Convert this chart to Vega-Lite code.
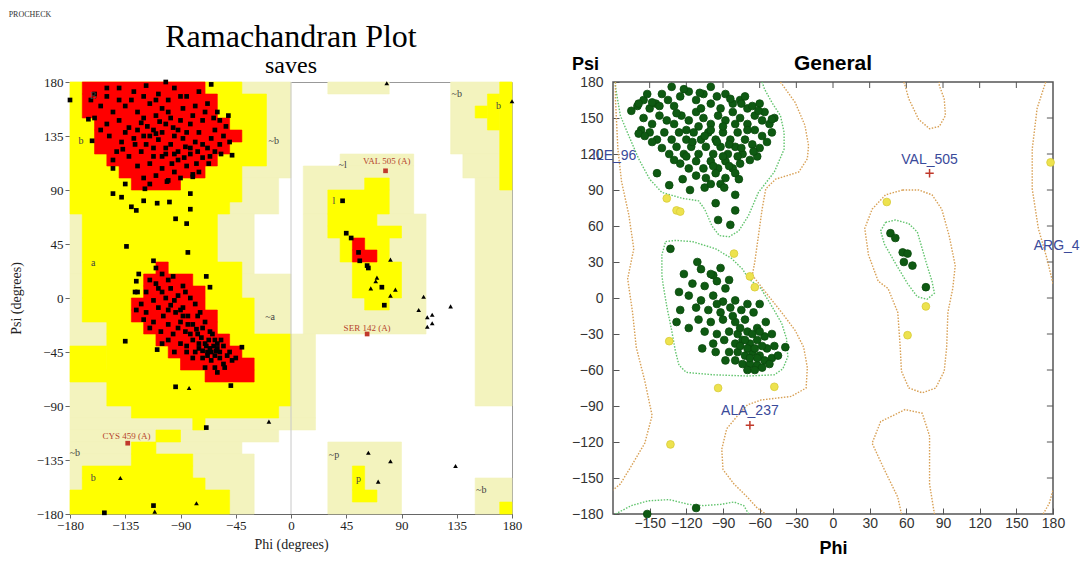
{
"$schema":"https://vega.github.io/schema/vega-lite/v6.json",
"background":"white",
"padding":{"left":8,"top":10,"right":0,"bottom":0},
"title":{"text":"PROCHECK","anchor":"start","fontSize":8,"font":"Liberation Serif","fontWeight":"normal","color":"#333","offset":2},
"spacing":47,
"resolve":{"scale":{"color":"independent","fill":"independent","stroke":"independent","shape":"independent"}},
"config":{"view":{"stroke":null}},
"datasets":{
"rg":[
{"t":"g","phi":-180,"phi2":0,"psi":100,"psi2":180},{"t":"g","phi":-180,"phi2":-10,"psi":70,"psi2":100},{"t":"g","phi":-180,"phi2":-30,"psi":20,"psi2":70},{"t":"g","phi":-180,"phi2":0,"psi":-100,"psi2":20},{"t":"g","phi":0,"phi2":20,"psi":-100,"psi2":-30},{"t":"g","phi":-180,"phi2":20,"psi":-110,"psi2":-100},{"t":"g","phi":-180,"phi2":-10,"psi":-120,"psi2":-110},{"t":"g","phi":-180,"phi2":-40,"psi":-130,"psi2":-120},{"t":"g","phi":-180,"phi2":-30,"psi":-180,"psi2":-130},{"t":"g","phi":30,"phi2":80,"psi":170,"psi2":180},{"t":"g","phi":130,"phi2":180,"psi":120,"psi2":180},{"t":"g","phi":140,"phi2":180,"psi":100,"psi2":120},{"t":"g","phi":150,"phi2":180,"psi":-90,"psi2":100},{"t":"g","phi":150,"phi2":180,"psi":-180,"psi2":-150},{"t":"g","phi":40,"phi2":100,"psi":110,"psi2":120},{"t":"g","phi":10,"phi2":100,"psi":70,"psi2":110},{"t":"g","phi":10,"phi2":110,"psi":-30,"psi2":70},{"t":"g","phi":30,"phi2":90,"psi":-180,"psi2":-120},
{"t":"y","phi":-180,"phi2":-40,"psi":170,"psi2":180},{"t":"y","phi":-180,"phi2":-20,"psi":110,"psi2":170},{"t":"y","phi":-180,"phi2":-40,"psi":80,"psi2":110},{"t":"y","phi":-180,"phi2":-50,"psi":70,"psi2":80},{"t":"y","phi":-170,"phi2":-60,"psi":30,"psi2":70},{"t":"y","phi":-170,"phi2":-40,"psi":0,"psi2":30},{"t":"y","phi":-170,"phi2":-30,"psi":-20,"psi2":0},{"t":"y","phi":-150,"phi2":-30,"psi":-30,"psi2":-20},{"t":"y","phi":-150,"phi2":0,"psi":-60,"psi2":-30},{"t":"y","phi":-180,"phi2":-150,"psi":-60,"psi2":-40},{"t":"y","phi":-180,"phi2":0,"psi":-70,"psi2":-60},{"t":"y","phi":-150,"phi2":0,"psi":-90,"psi2":-70},{"t":"y","phi":-130,"phi2":-10,"psi":-100,"psi2":-90},{"t":"y","phi":-80,"phi2":-70,"psi":-110,"psi2":-100},{"t":"y","phi":-180,"phi2":-50,"psi":-180,"psi2":-160},{"t":"y","phi":-170,"phi2":-70,"psi":-160,"psi2":-150},{"t":"y","phi":-170,"phi2":-80,"psi":-150,"psi2":-140},{"t":"y","phi":-130,"phi2":-80,"psi":-140,"psi2":-130},{"t":"y","phi":-130,"phi2":-110,"psi":-130,"psi2":-120},{"t":"y","phi":-110,"phi2":-90,"psi":-120,"psi2":-110},{"t":"y","phi":170,"phi2":180,"psi":90,"psi2":180},{"t":"y","phi":160,"phi2":170,"psi":140,"psi2":170},{"t":"y","phi":150,"phi2":160,"psi":150,"psi2":160},{"t":"y","phi":170,"phi2":180,"psi":-180,"psi2":-170},{"t":"y","phi":60,"phi2":80,"psi":90,"psi2":100},{"t":"y","phi":30,"phi2":80,"psi":70,"psi2":90},{"t":"y","phi":30,"phi2":70,"psi":60,"psi2":70},{"t":"y","phi":30,"phi2":90,"psi":50,"psi2":60},{"t":"y","phi":40,"phi2":80,"psi":30,"psi2":50},{"t":"y","phi":50,"phi2":90,"psi":0,"psi2":30},{"t":"y","phi":60,"phi2":80,"psi":-10,"psi2":0},{"t":"y","phi":50,"phi2":60,"psi":-160,"psi2":-140},{"t":"y","phi":50,"phi2":70,"psi":-170,"psi2":-160},
{"t":"r","phi":-170,"phi2":-70,"psi":170,"psi2":180},{"t":"r","phi":-170,"phi2":-60,"psi":150,"psi2":170},{"t":"r","phi":-160,"phi2":-50,"psi":140,"psi2":150},{"t":"r","phi":-160,"phi2":-40,"psi":130,"psi2":140},{"t":"r","phi":-160,"phi2":-50,"psi":120,"psi2":130},{"t":"r","phi":-150,"phi2":-60,"psi":110,"psi2":120},{"t":"r","phi":-140,"phi2":-70,"psi":100,"psi2":110},{"t":"r","phi":-130,"phi2":-90,"psi":90,"psi2":100},{"t":"r","phi":-110,"phi2":-100,"psi":20,"psi2":30},{"t":"r","phi":-120,"phi2":-80,"psi":10,"psi2":20},{"t":"r","phi":-120,"phi2":-70,"psi":0,"psi2":10},{"t":"r","phi":-130,"phi2":-70,"psi":-10,"psi2":0},{"t":"r","phi":-130,"phi2":-60,"psi":-20,"psi2":-10},{"t":"r","phi":-120,"phi2":-60,"psi":-30,"psi2":-20},{"t":"r","phi":-110,"phi2":-50,"psi":-40,"psi2":-30},{"t":"r","phi":-100,"phi2":-40,"psi":-50,"psi2":-40},{"t":"r","phi":-90,"phi2":-30,"psi":-60,"psi2":-50},{"t":"r","phi":-70,"phi2":-30,"psi":-70,"psi2":-60},{"t":"r","phi":50,"phi2":60,"psi":40,"psi2":50},{"t":"r","phi":50,"phi2":70,"psi":30,"psi2":40}
],
"lr":[{"phi":0,"psi":-180,"psi2":180}],
"lp":[
{"phi":-160,"psi":170,"s":"sq"},{"phi":-150,"psi":175,"s":"sq"},{"phi":-140,"psi":165,"s":"sq"},{"phi":-128,"psi":172,"s":"sq"},{"phi":-118,"psi":177,"s":"sq"},{"phi":-108,"psi":170,"s":"sq"},{"phi":-95,"psi":175,"s":"sq"},{"phi":-85,"psi":168,"s":"sq"},{"phi":-75,"psi":172,"s":"sq"},{"phi":-65,"psi":178,"s":"sq"},{"phi":-155,"psi":160,"s":"sq"},{"phi":-145,"psi":155,"s":"sq"},{"phi":-135,"psi":160,"s":"sq"},{"phi":-125,"psi":155,"s":"sq"},{"phi":-115,"psi":162,"s":"sq"},{"phi":-105,"psi":158,"s":"sq"},{"phi":-98,"psi":150,"s":"sq"},{"phi":-88,"psi":158,"s":"sq"},{"phi":-78,"psi":160,"s":"sq"},{"phi":-68,"psi":162,"s":"sq"},{"phi":-60,"psi":155,"s":"sq"},{"phi":-150,"psi":145,"s":"sq"},{"phi":-140,"psi":148,"s":"sq"},{"phi":-132,"psi":142,"s":"sq"},{"phi":-122,"psi":146,"s":"sq"},{"phi":-112,"psi":140,"s":"sq"},{"phi":-102,"psi":145,"s":"sq"},{"phi":-92,"psi":140,"s":"sq"},{"phi":-82,"psi":145,"s":"sq"},{"phi":-72,"psi":148,"s":"sq"},{"phi":-62,"psi":140,"s":"sq"},{"phi":-55,"psi":135,"s":"sq"},{"phi":-148,"psi":135,"s":"sq"},{"phi":-138,"psi":130,"s":"sq"},{"phi":-128,"psi":133,"s":"sq"},{"phi":-118,"psi":128,"s":"sq"},{"phi":-108,"psi":132,"s":"sq"},{"phi":-98,"psi":128,"s":"sq"},{"phi":-88,"psi":133,"s":"sq"},{"phi":-78,"psi":130,"s":"sq"},{"phi":-68,"psi":125,"s":"sq"},{"phi":-58,"psi":128,"s":"sq"},{"phi":-50,"psi":130,"s":"sq"},{"phi":-142,"psi":122,"s":"sq"},{"phi":-132,"psi":118,"s":"sq"},{"phi":-122,"psi":122,"s":"sq"},{"phi":-112,"psi":118,"s":"sq"},{"phi":-102,"psi":120,"s":"sq"},{"phi":-92,"psi":115,"s":"sq"},{"phi":-82,"psi":120,"s":"sq"},{"phi":-72,"psi":117,"s":"sq"},{"phi":-62,"psi":122,"s":"sq"},{"phi":-125,"psi":110,"s":"sq"},{"phi":-115,"psi":112,"s":"sq"},{"phi":-105,"psi":108,"s":"sq"},{"phi":-95,"psi":105,"s":"sq"},{"phi":-85,"psi":110,"s":"sq"},{"phi":-75,"psi":105,"s":"sq"},{"phi":-120,"psi":100,"s":"sq"},{"phi":-110,"psi":102,"s":"sq"},{"phi":-100,"psi":98,"s":"sq"},{"phi":-90,"psi":100,"s":"sq"},{"phi":-80,"psi":103,"s":"sq"},{"phi":-115,"psi":95,"s":"sq"},{"phi":-145,"psi":115,"s":"sq"},{"phi":-135,"psi":138,"s":"sq"},{"phi":-125,"psi":140,"s":"sq"},{"phi":-115,"psi":135,"s":"sq"},{"phi":-105,"psi":138,"s":"sq"},{"phi":-95,"psi":135,"s":"sq"},{"phi":-85,"psi":138,"s":"sq"},{"phi":-75,"psi":138,"s":"sq"},{"phi":-65,"psi":133,"s":"sq"},{"phi":-120,"psi":150,"s":"sq"},{"phi":-110,"psi":152,"s":"sq"},{"phi":-100,"psi":155,"s":"sq"},{"phi":-90,"psi":148,"s":"sq"},{"phi":-80,"psi":152,"s":"sq"},{"phi":-70,"psi":155,"s":"sq"},{"phi":-130,"psi":165,"s":"sq"},{"phi":-120,"psi":168,"s":"sq"},{"phi":-110,"psi":165,"s":"sq"},{"phi":-100,"psi":165,"s":"sq"},{"phi":-90,"psi":168,"s":"sq"},{"phi":-150,"psi":168,"s":"sq"},{"phi":-140,"psi":175,"s":"sq"},{"phi":-112,"psi":125,"s":"sq"},{"phi":-102,"psi":125,"s":"sq"},{"phi":-92,"psi":122,"s":"sq"},{"phi":-82,"psi":125,"s":"sq"},{"phi":-72,"psi":128,"s":"sq"},{"phi":-96,"psi":142,"s":"sq"},{"phi":-86,"psi":126,"s":"sq"},{"phi":-76,"psi":122,"s":"sq"},{"phi":-66,"psi":118,"s":"sq"},{"phi":-117,"psi":143,"s":"sq"},{"phi":-107,"psi":147,"s":"sq"},{"phi":-127,"psi":128,"s":"sq"},{"phi":-137,"psi":124,"s":"sq"},{"phi":-97,"psi":112,"s":"sq"},{"phi":-87,"psi":117,"s":"sq"},{"phi":-77,"psi":112,"s":"sq"},{"phi":-67,"psi":112,"s":"sq"},{"phi":-57,"psi":120,"s":"sq"},{"phi":-53,"psi":143,"s":"sq"},{"phi":-58,"psi":148,"s":"sq"},{"phi":-63,"psi":150,"s":"sq"},{"phi":-160,"psi":150,"s":"sq"},{"phi":-155,"psi":140,"s":"sq"},{"phi":-163,"psi":165,"s":"sq"},{"phi":-105,"psi":118,"s":"sq"},{"phi":-95,"psi":120,"s":"sq"},{"phi":-120,"psi":135,"s":"sq"},{"phi":-110,"psi":137,"s":"sq"},
{"phi":-110,"psi":25,"s":"sq"},{"phi":-105,"psi":20,"s":"sq"},{"phi":-115,"psi":15,"s":"sq"},{"phi":-100,"psi":15,"s":"sq"},{"phi":-108,"psi":8,"s":"sq"},{"phi":-98,"psi":8,"s":"sq"},{"phi":-118,"psi":5,"s":"sq"},{"phi":-88,"psi":10,"s":"sq"},{"phi":-112,"psi":-2,"s":"sq"},{"phi":-102,"psi":0,"s":"sq"},{"phi":-92,"psi":2,"s":"sq"},{"phi":-82,"psi":0,"s":"sq"},{"phi":-122,"psi":-5,"s":"sq"},{"phi":-108,"psi":-8,"s":"sq"},{"phi":-98,"psi":-6,"s":"sq"},{"phi":-88,"psi":-8,"s":"sq"},{"phi":-78,"psi":-5,"s":"sq"},{"phi":-118,"psi":-12,"s":"sq"},{"phi":-104,"psi":-15,"s":"sq"},{"phi":-94,"psi":-12,"s":"sq"},{"phi":-84,"psi":-15,"s":"sq"},{"phi":-74,"psi":-12,"s":"sq"},{"phi":-112,"psi":-20,"s":"sq"},{"phi":-100,"psi":-22,"s":"sq"},{"phi":-90,"psi":-20,"s":"sq"},{"phi":-80,"psi":-22,"s":"sq"},{"phi":-70,"psi":-20,"s":"sq"},{"phi":-106,"psi":-28,"s":"sq"},{"phi":-96,"psi":-30,"s":"sq"},{"phi":-86,"psi":-28,"s":"sq"},{"phi":-76,"psi":-30,"s":"sq"},{"phi":-66,"psi":-28,"s":"sq"},{"phi":-100,"psi":-35,"s":"sq"},{"phi":-90,"psi":-38,"s":"sq"},{"phi":-80,"psi":-35,"s":"sq"},{"phi":-70,"psi":-38,"s":"sq"},{"phi":-62,"psi":-35,"s":"sq"},{"phi":-95,"psi":-45,"s":"sq"},{"phi":-85,"psi":-45,"s":"sq"},{"phi":-75,"psi":-42,"s":"sq"},{"phi":-68,"psi":-45,"s":"sq"},{"phi":-60,"psi":-42,"s":"sq"},{"phi":-55,"psi":-40,"s":"sq"},{"phi":-80,"psi":-50,"s":"sq"},{"phi":-72,"psi":-50,"s":"sq"},{"phi":-65,"psi":-52,"s":"sq"},{"phi":-58,"psi":-50,"s":"sq"},{"phi":-52,"psi":-48,"s":"sq"},{"phi":-70,"psi":-58,"s":"sq"},{"phi":-62,"psi":-58,"s":"sq"},{"phi":-55,"psi":-55,"s":"sq"},{"phi":-48,"psi":-52,"s":"sq"},{"phi":-65,"psi":-45,"s":"sq"},{"phi":-63,"psi":-40,"s":"sq"},{"phi":-67,"psi":-35,"s":"sq"},{"phi":-72,"psi":-44,"s":"sq"},{"phi":-58,"psi":-45,"s":"sq"},{"phi":-62,"psi":-48,"s":"sq"},{"phi":-68,"psi":-48,"s":"sq"},{"phi":-75,"psi":-38,"s":"sq"},{"phi":-78,"psi":-45,"s":"sq"},{"phi":-64,"psi":-30,"s":"sq"},{"phi":-72,"psi":-25,"s":"sq"},{"phi":-82,"psi":-30,"s":"sq"},{"phi":-92,"psi":-25,"s":"sq"},{"phi":-88,"psi":-15,"s":"sq"},{"phi":-95,"psi":-2,"s":"sq"},{"phi":-105,"psi":5,"s":"sq"},{"phi":-85,"psi":-40,"s":"sq"},{"phi":-60,"psi":-38,"s":"sq"},{"phi":-57,"psi":-35,"s":"sq"},{"phi":-66,"psi":-42,"s":"sq"},{"phi":-69,"psi":-40,"s":"sq"},{"phi":-61,"psi":-44,"s":"sq"},{"phi":-73,"psi":-33,"s":"sq"},{"phi":-77,"psi":-26,"s":"sq"},{"phi":-84,"psi":-22,"s":"sq"},{"phi":-90,"psi":-10,"s":"sq"},{"phi":-100,"psi":-10,"s":"sq"},{"phi":-110,"psi":12,"s":"sq"},{"phi":-125,"psi":5,"s":"sq"},{"phi":-120,"psi":-18,"s":"sq"},{"phi":-96,"psi":18,"s":"sq"},{"phi":-86,"psi":5,"s":"sq"},{"phi":-76,"psi":-15,"s":"sq"},{"phi":-54,"psi":-58,"s":"sq"},{"phi":-50,"psi":-45,"s":"sq"},{"phi":-45,"psi":-50,"s":"sq"},{"phi":-60,"psi":-62,"s":"sq"},{"phi":-105,"psi":-38,"s":"sq"},{"phi":-115,"psi":-25,"s":"sq"},
{"phi":-180,"psi":165,"s":"sq"},{"phi":-165,"psi":149,"s":"sq"},{"phi":-162,"psi":131,"s":"sq"},{"phi":-145,"psi":108,"s":"sq"},{"phi":-135,"psi":95,"s":"sq"},{"phi":-145,"psi":87,"s":"sq"},{"phi":-138,"psi":84,"s":"sq"},{"phi":-130,"psi":76,"s":"sq"},{"phi":-126,"psi":73,"s":"sq"},{"phi":-120,"psi":81,"s":"sq"},{"phi":-109,"psi":79,"s":"sq"},{"phi":-99,"psi":80,"s":"sq"},{"phi":-82,"psi":87,"s":"sq"},{"phi":-82,"psi":74,"s":"sq"},{"phi":-94,"psi":66,"s":"sq"},{"phi":-85,"psi":62,"s":"sq"},{"phi":-119,"psi":91,"s":"sq"},{"phi":-101,"psi":97,"s":"sq"},{"phi":-80,"psi":101,"s":"sq"},{"phi":-51,"psi":152,"s":"sq"},{"phi":-48,"psi":119,"s":"sq"},{"phi":-134,"psi":43,"s":"sq"},{"phi":-84,"psi":38,"s":"sq"},{"phi":-112,"psi":31,"s":"sq"},{"phi":-124,"psi":20,"s":"sq"},{"phi":-126,"psi":14,"s":"sq"},{"phi":-127,"psi":5,"s":"sq"},{"phi":-69,"psi":18,"s":"sq"},{"phi":-66,"psi":9,"s":"sq"},{"phi":-126,"psi":-10,"s":"sq"},{"phi":-135,"psi":-36,"s":"sq"},{"phi":-109,"psi":-43,"s":"sq"},{"phi":-94,"psi":-74,"s":"sq"},{"phi":-49,"psi":-73,"s":"sq"},{"phi":-69,"psi":-108,"s":"sq"},{"phi":-40,"psi":-41,"s":"sq"},{"phi":-112,"psi":-173,"s":"sq"},{"phi":-152,"psi":-179,"s":"sq"},{"phi":42,"psi":81,"s":"sq"},{"phi":45,"psi":54,"s":"sq"},{"phi":49,"psi":50,"s":"sq"},{"phi":55,"psi":38,"s":"sq"},{"phi":56,"psi":31,"s":"sq"},{"phi":62,"psi":27,"s":"sq"},{"phi":63,"psi":25,"s":"sq"},{"phi":74,"psi":9,"s":"sq"},{"phi":76,"psi":-6,"s":"sq"},{"phi":-102,"psi":180,"s":"sq"},
{"phi":-83,"psi":-75,"s":"tri"},{"phi":-18,"psi":-103,"s":"tri"},{"phi":-139,"psi":-150,"s":"tri"},{"phi":-111,"psi":-178,"s":"tri"},{"phi":-77,"psi":-171,"s":"tri"},{"phi":63,"psi":-129,"s":"tri"},{"phi":81,"psi":-136,"s":"tri"},{"phi":71,"psi":-153,"s":"tri"},{"phi":134,"psi":-140,"s":"tri"},{"phi":78,"psi":179,"s":"tri"},{"phi":180,"psi":164,"s":"tri"},{"phi":81,"psi":32,"s":"tri"},{"phi":70,"psi":17,"s":"tri"},{"phi":69,"psi":14,"s":"tri"},{"phi":65,"psi":8,"s":"tri"},{"phi":85,"psi":7,"s":"tri"},{"phi":81,"psi":2,"s":"tri"},{"phi":108,"psi":1,"s":"tri"},{"phi":104,"psi":-10,"s":"tri"},{"phi":130,"psi":-7,"s":"tri"},{"phi":111,"psi":-16,"s":"tri"},{"phi":115,"psi":-14,"s":"tri"},{"phi":115,"psi":-21,"s":"tri"},{"phi":111,"psi":-24,"s":"tri"},
{"phi":77,"psi":106,"s":"out"},{"phi":62,"psi":-30,"s":"out"},{"phi":-133,"psi":-121,"s":"out"}
],
"ll":[
{"phi":-161,"psi":168,"txt":"B"},{"phi":-171,"psi":131,"txt":"b"},{"phi":-14,"psi":131,"txt":"~b"},{"phi":-161,"psi":29,"txt":"a"},{"phi":-17,"psi":-16,"txt":"~a"},{"phi":35,"psi":81,"txt":"l"},{"phi":42,"psi":111,"txt":"~l"},{"phi":135,"psi":170,"txt":"~b"},{"phi":169,"psi":160,"txt":"b"},{"phi":-176,"psi":-129,"txt":"~b"},{"phi":-161,"psi":-150,"txt":"b"},{"phi":35,"psi":-131,"txt":"~p"},{"phi":55,"psi":-151,"txt":"p"},{"phi":155,"psi":-160,"txt":"~b"}
],
"lo":[
{"phi":78,"psi":114,"txt":"VAL 505 (A)"},{"phi":62,"psi":-25,"txt":"SER 142 (A)"},{"phi":-134,"psi":-115,"txt":"CYS 459 (A)"}
],
"tk":[
{"phi":-150,"phi2":-150,"psi":180,"psi2":175},{"phi":-120,"phi2":-120,"psi":180,"psi2":175},{"phi":-90,"phi2":-90,"psi":180,"psi2":175},{"phi":-60,"phi2":-60,"psi":180,"psi2":175},{"phi":-30,"phi2":-30,"psi":180,"psi2":175},{"phi":0,"phi2":0,"psi":180,"psi2":175},{"phi":30,"phi2":30,"psi":180,"psi2":175},{"phi":60,"phi2":60,"psi":180,"psi2":175},{"phi":90,"phi2":90,"psi":180,"psi2":175},{"phi":120,"phi2":120,"psi":180,"psi2":175},{"phi":150,"phi2":150,"psi":180,"psi2":175},
{"phi":180,"phi2":175,"psi":-150,"psi2":-150},{"phi":180,"phi2":175,"psi":-120,"psi2":-120},{"phi":180,"phi2":175,"psi":-90,"psi2":-90},{"phi":180,"phi2":175,"psi":-60,"psi2":-60},{"phi":180,"phi2":175,"psi":-30,"psi2":-30},{"phi":180,"phi2":175,"psi":0,"psi2":0},{"phi":180,"phi2":175,"psi":30,"psi2":30},{"phi":180,"phi2":175,"psi":60,"psi2":60},{"phi":180,"phi2":175,"psi":90,"psi2":90},{"phi":180,"phi2":175,"psi":120,"psi2":120},{"phi":180,"phi2":175,"psi":150,"psi2":150}
],
"rc":[
{"k":"gb","c":"fav","i":0,"phi":-178,"psi":180},{"k":"gb","c":"fav","i":1,"phi":-178,"psi":176},{"k":"gb","c":"fav","i":2,"phi":-174,"psi":152},{"k":"gb","c":"fav","i":3,"phi":-167,"psi":135},{"k":"gb","c":"fav","i":4,"phi":-159,"psi":116},{"k":"gb","c":"fav","i":5,"phi":-150,"psi":99},{"k":"gb","c":"fav","i":6,"phi":-140,"psi":88},{"k":"gb","c":"fav","i":7,"phi":-123,"psi":83},{"k":"gb","c":"fav","i":8,"phi":-110,"psi":81},{"k":"gb","c":"fav","i":9,"phi":-105,"psi":74},{"k":"gb","c":"fav","i":10,"phi":-99,"psi":60},{"k":"gb","c":"fav","i":11,"phi":-93,"psi":52},{"k":"gb","c":"fav","i":12,"phi":-85,"psi":51},{"k":"gb","c":"fav","i":13,"phi":-77,"psi":56},{"k":"gb","c":"fav","i":14,"phi":-69,"psi":69},{"k":"gb","c":"fav","i":15,"phi":-61,"psi":88},{"k":"gb","c":"fav","i":16,"phi":-48,"psi":105},{"k":"gb","c":"fav","i":17,"phi":-40,"psi":124},{"k":"gb","c":"fav","i":18,"phi":-40,"psi":138},{"k":"gb","c":"fav","i":19,"phi":-43,"psi":152},{"k":"gb","c":"fav","i":20,"phi":-50,"psi":163},{"k":"gb","c":"fav","i":21,"phi":-56,"psi":174},{"k":"gb","c":"fav","i":22,"phi":-58,"psi":180},
{"k":"gb2","c":"fav","i":0,"phi":-178,"psi":-180},{"k":"gb2","c":"fav","i":1,"phi":-165,"psi":-173},{"k":"gb2","c":"fav","i":2,"phi":-151,"psi":-169},{"k":"gb2","c":"fav","i":3,"phi":-134,"psi":-168},{"k":"gb2","c":"fav","i":4,"phi":-118,"psi":-172},{"k":"gb2","c":"fav","i":5,"phi":-106,"psi":-173},{"k":"gb2","c":"fav","i":6,"phi":-92,"psi":-172},{"k":"gb2","c":"fav","i":7,"phi":-81,"psi":-170},{"k":"gb2","c":"fav","i":8,"phi":-73,"psi":-173},{"k":"gb2","c":"fav","i":9,"phi":-69,"psi":-180},
{"k":"ga","c":"fav","i":0,"phi":-137,"psi":47},{"k":"ga","c":"fav","i":1,"phi":-129,"psi":48},{"k":"ga","c":"fav","i":2,"phi":-115,"psi":47},{"k":"ga","c":"fav","i":3,"phi":-96,"psi":41},{"k":"ga","c":"fav","i":4,"phi":-83,"psi":33},{"k":"ga","c":"fav","i":5,"phi":-74,"psi":24},{"k":"ga","c":"fav","i":6,"phi":-69,"psi":16},{"k":"ga","c":"fav","i":7,"phi":-59,"psi":8},{"k":"ga","c":"fav","i":8,"phi":-50,"psi":-7},{"k":"ga","c":"fav","i":9,"phi":-42,"psi":-21},{"k":"ga","c":"fav","i":10,"phi":-38,"psi":-34},{"k":"ga","c":"fav","i":11,"phi":-37,"psi":-49},{"k":"ga","c":"fav","i":12,"phi":-41,"psi":-59},{"k":"ga","c":"fav","i":13,"phi":-48,"psi":-64},{"k":"ga","c":"fav","i":14,"phi":-70,"psi":-65},{"k":"ga","c":"fav","i":15,"phi":-98,"psi":-64},{"k":"ga","c":"fav","i":16,"phi":-120,"psi":-62},{"k":"ga","c":"fav","i":17,"phi":-126,"psi":-56},{"k":"ga","c":"fav","i":18,"phi":-129,"psi":-44},{"k":"ga","c":"fav","i":19,"phi":-132,"psi":-27},{"k":"ga","c":"fav","i":20,"phi":-136,"psi":-7},{"k":"ga","c":"fav","i":21,"phi":-139,"psi":11},{"k":"ga","c":"fav","i":22,"phi":-140,"psi":19},{"k":"ga","c":"fav","i":23,"phi":-140,"psi":36},{"k":"ga","c":"fav","i":24,"phi":-137,"psi":47},
{"k":"gl","c":"fav","i":0,"phi":43,"psi":63},{"k":"gl","c":"fav","i":1,"phi":51,"psi":65},{"k":"gl","c":"fav","i":2,"phi":62,"psi":62},{"k":"gl","c":"fav","i":3,"phi":69,"psi":55},{"k":"gl","c":"fav","i":4,"phi":73,"psi":41},{"k":"gl","c":"fav","i":5,"phi":77,"psi":27},{"k":"gl","c":"fav","i":6,"phi":81,"psi":14},{"k":"gl","c":"fav","i":7,"phi":83,"psi":4},{"k":"gl","c":"fav","i":8,"phi":77,"psi":-1},{"k":"gl","c":"fav","i":9,"phi":69,"psi":1},{"k":"gl","c":"fav","i":10,"phi":61,"psi":12},{"k":"gl","c":"fav","i":11,"phi":51,"psi":29},{"k":"gl","c":"fav","i":12,"phi":42,"psi":45},{"k":"gl","c":"fav","i":13,"phi":39,"psi":56},{"k":"gl","c":"fav","i":14,"phi":43,"psi":63},
{"k":"ob","c":"all","i":0,"phi":-43,"psi":180},{"k":"ob","c":"all","i":1,"phi":-31,"psi":163},{"k":"ob","c":"all","i":2,"phi":-23,"psi":144},{"k":"ob","c":"all","i":3,"phi":-20,"psi":127},{"k":"ob","c":"all","i":4,"phi":-21,"psi":116},{"k":"ob","c":"all","i":5,"phi":-28,"psi":105},{"k":"ob","c":"all","i":6,"phi":-47,"psi":99},{"k":"ob","c":"all","i":7,"phi":-55,"psi":91},{"k":"ob","c":"all","i":8,"phi":-58,"psi":74},{"k":"ob","c":"all","i":9,"phi":-61,"psi":52},{"k":"ob","c":"all","i":10,"phi":-64,"psi":30},{"k":"ob","c":"all","i":11,"phi":-66,"psi":19},{"k":"ob","c":"all","i":12,"phi":-53,"psi":2},{"k":"ob","c":"all","i":13,"phi":-42,"psi":-12},{"k":"ob","c":"all","i":14,"phi":-31,"psi":-27},{"k":"ob","c":"all","i":15,"phi":-24,"psi":-41},{"k":"ob","c":"all","i":16,"phi":-21,"psi":-58},{"k":"ob","c":"all","i":17,"phi":-22,"psi":-75},{"k":"ob","c":"all","i":18,"phi":-34,"psi":-82},{"k":"ob","c":"all","i":19,"phi":-59,"psi":-85},{"k":"ob","c":"all","i":20,"phi":-70,"psi":-89},{"k":"ob","c":"all","i":21,"phi":-78,"psi":-98},{"k":"ob","c":"all","i":22,"phi":-87,"psi":-109},{"k":"ob","c":"all","i":23,"phi":-91,"psi":-126},{"k":"ob","c":"all","i":24,"phi":-90,"psi":-143},{"k":"ob","c":"all","i":25,"phi":-81,"psi":-155},{"k":"ob","c":"all","i":26,"phi":-70,"psi":-166},{"k":"ob","c":"all","i":27,"phi":-62,"psi":-175},{"k":"ob","c":"all","i":28,"phi":-55,"psi":-180},
{"k":"ol","c":"all","i":0,"phi":-178,"psi":180},{"k":"ol","c":"all","i":1,"phi":-178,"psi":166},{"k":"ol","c":"all","i":2,"phi":-176,"psi":124},{"k":"ol","c":"all","i":3,"phi":-173,"psi":97},{"k":"ol","c":"all","i":4,"phi":-167,"psi":69},{"k":"ol","c":"all","i":5,"phi":-163,"psi":41},{"k":"ol","c":"all","i":6,"phi":-168,"psi":16},{"k":"ol","c":"all","i":7,"phi":-164,"psi":-12},{"k":"ol","c":"all","i":8,"phi":-161,"psi":-41},{"k":"ol","c":"all","i":9,"phi":-154,"psi":-69},{"k":"ol","c":"all","i":10,"phi":-148,"psi":-98},{"k":"ol","c":"all","i":11,"phi":-154,"psi":-121},{"k":"ol","c":"all","i":12,"phi":-165,"psi":-140},{"k":"ol","c":"all","i":13,"phi":-174,"psi":-155},{"k":"ol","c":"all","i":14,"phi":-180,"psi":-160},
{"k":"or1","c":"all","i":0,"phi":174,"psi":180},{"k":"or1","c":"all","i":1,"phi":167,"psi":158},{"k":"or1","c":"all","i":2,"phi":163,"psi":124},{"k":"or1","c":"all","i":3,"phi":163,"psi":91},{"k":"or1","c":"all","i":4,"phi":168,"psi":58},{"k":"or1","c":"all","i":5,"phi":175,"psi":33},{"k":"or1","c":"all","i":6,"phi":180,"psi":12},
{"k":"or2","c":"all","i":0,"phi":172,"psi":-180},{"k":"or2","c":"all","i":1,"phi":177,"psi":-171},{"k":"or2","c":"all","i":2,"phi":180,"psi":-160},
{"k":"ot","c":"all","i":0,"phi":58,"psi":180},{"k":"ot","c":"all","i":1,"phi":59,"psi":177},{"k":"ot","c":"all","i":2,"phi":62,"psi":166},{"k":"ot","c":"all","i":3,"phi":70,"psi":149},{"k":"ot","c":"all","i":4,"phi":79,"psi":141},{"k":"ot","c":"all","i":5,"phi":87,"psi":143},{"k":"ot","c":"all","i":6,"phi":92,"psi":152},{"k":"ot","c":"all","i":7,"phi":91,"psi":166},{"k":"ot","c":"all","i":8,"phi":87,"psi":177},{"k":"ot","c":"all","i":9,"phi":87,"psi":180},
{"k":"obm","c":"all","i":0,"phi":56,"psi":-180},{"k":"obm","c":"all","i":1,"phi":53,"psi":-166},{"k":"obm","c":"all","i":2,"phi":42,"psi":-143},{"k":"obm","c":"all","i":3,"phi":32,"psi":-121},{"k":"obm","c":"all","i":4,"phi":39,"psi":-103},{"k":"obm","c":"all","i":5,"phi":59,"psi":-93},{"k":"obm","c":"all","i":6,"phi":73,"psi":-96},{"k":"obm","c":"all","i":7,"phi":79,"psi":-115},{"k":"obm","c":"all","i":8,"phi":79,"psi":-155},{"k":"obm","c":"all","i":9,"phi":83,"psi":-180},
{"k":"oL","c":"all","i":0,"phi":57,"psi":90},{"k":"oL","c":"all","i":1,"phi":43,"psi":86},{"k":"oL","c":"all","i":2,"phi":32,"psi":74},{"k":"oL","c":"all","i":3,"phi":26,"psi":58},{"k":"oL","c":"all","i":4,"phi":29,"psi":36},{"k":"oL","c":"all","i":5,"phi":37,"psi":14},{"k":"oL","c":"all","i":6,"phi":45,"psi":8},{"k":"oL","c":"all","i":7,"phi":53,"psi":-12},{"k":"oL","c":"all","i":8,"phi":55,"psi":-41},{"k":"oL","c":"all","i":9,"phi":56,"psi":-61},{"k":"oL","c":"all","i":10,"phi":62,"psi":-75},{"k":"oL","c":"all","i":11,"phi":73,"psi":-79},{"k":"oL","c":"all","i":12,"phi":84,"psi":-75},{"k":"oL","c":"all","i":13,"phi":91,"psi":-61},{"k":"oL","c":"all","i":14,"phi":93,"psi":-41},{"k":"oL","c":"all","i":15,"phi":94,"psi":-12},{"k":"oL","c":"all","i":16,"phi":98,"psi":8},{"k":"oL","c":"all","i":17,"phi":100,"psi":27},{"k":"oL","c":"all","i":18,"phi":95,"psi":52},{"k":"oL","c":"all","i":19,"phi":89,"psi":74},{"k":"oL","c":"all","i":20,"phi":81,"psi":86},{"k":"oL","c":"all","i":21,"phi":70,"psi":90},{"k":"oL","c":"all","i":22,"phi":57,"psi":90}
],
"rp":[
{"phi":-136,"psi":83,"c":"all"},{"phi":-128,"psi":73,"c":"all"},{"phi":-125,"psi":72,"c":"all"},{"phi":-81,"psi":37,"c":"all"},{"phi":-68,"psi":18,"c":"all"},{"phi":-64,"psi":9,"c":"all"},{"phi":44,"psi":80,"c":"all"},{"phi":178,"psi":113,"c":"all"},{"phi":-134,"psi":-36,"c":"all"},{"phi":-94,"psi":-75,"c":"all"},{"phi":-48,"psi":-74,"c":"all"},{"phi":-133,"psi":-122,"c":"all"},{"phi":76,"psi":-7,"c":"all"},{"phi":61,"psi":-31,"c":"all"},
{"phi":-160,"psi":160,"c":"fav"},{"phi":-155,"psi":165,"c":"fav"},{"phi":-150,"psi":158,"c":"fav"},{"phi":-145,"psi":162,"c":"fav"},{"phi":-140,"psi":170,"c":"fav"},{"phi":-135,"psi":165,"c":"fav"},{"phi":-130,"psi":160,"c":"fav"},{"phi":-125,"psi":168,"c":"fav"},{"phi":-118,"psi":172,"c":"fav"},{"phi":-112,"psi":165,"c":"fav"},{"phi":-106,"psi":170,"c":"fav"},{"phi":-100,"psi":162,"c":"fav"},{"phi":-95,"psi":168,"c":"fav"},{"phi":-88,"psi":170,"c":"fav"},{"phi":-82,"psi":162,"c":"fav"},{"phi":-76,"psi":165,"c":"fav"},{"phi":-70,"psi":158,"c":"fav"},{"phi":-64,"psi":152,"c":"fav"},{"phi":-58,"psi":148,"c":"fav"},{"phi":-155,"psi":150,"c":"fav"},{"phi":-148,"psi":145,"c":"fav"},{"phi":-142,"psi":152,"c":"fav"},{"phi":-136,"psi":148,"c":"fav"},{"phi":-130,"psi":145,"c":"fav"},{"phi":-124,"psi":152,"c":"fav"},{"phi":-118,"psi":148,"c":"fav"},{"phi":-112,"psi":155,"c":"fav"},{"phi":-106,"psi":150,"c":"fav"},{"phi":-100,"psi":145,"c":"fav"},{"phi":-94,"psi":152,"c":"fav"},{"phi":-88,"psi":148,"c":"fav"},{"phi":-82,"psi":155,"c":"fav"},{"phi":-76,"psi":150,"c":"fav"},{"phi":-70,"psi":145,"c":"fav"},{"phi":-64,"psi":140,"c":"fav"},{"phi":-58,"psi":135,"c":"fav"},{"phi":-52,"psi":145,"c":"fav"},{"phi":-150,"psi":138,"c":"fav"},{"phi":-144,"psi":132,"c":"fav"},{"phi":-138,"psi":138,"c":"fav"},{"phi":-132,"psi":132,"c":"fav"},{"phi":-126,"psi":138,"c":"fav"},{"phi":-120,"psi":132,"c":"fav"},{"phi":-114,"psi":138,"c":"fav"},{"phi":-108,"psi":132,"c":"fav"},{"phi":-102,"psi":138,"c":"fav"},{"phi":-96,"psi":132,"c":"fav"},{"phi":-90,"psi":138,"c":"fav"},{"phi":-84,"psi":132,"c":"fav"},{"phi":-78,"psi":138,"c":"fav"},{"phi":-72,"psi":132,"c":"fav"},{"phi":-66,"psi":128,"c":"fav"},{"phi":-60,"psi":125,"c":"fav"},{"phi":-54,"psi":130,"c":"fav"},{"phi":-140,"psi":125,"c":"fav"},{"phi":-134,"psi":120,"c":"fav"},{"phi":-128,"psi":126,"c":"fav"},{"phi":-122,"psi":120,"c":"fav"},{"phi":-116,"psi":126,"c":"fav"},{"phi":-110,"psi":120,"c":"fav"},{"phi":-104,"psi":126,"c":"fav"},{"phi":-98,"psi":120,"c":"fav"},{"phi":-92,"psi":126,"c":"fav"},{"phi":-86,"psi":120,"c":"fav"},{"phi":-80,"psi":126,"c":"fav"},{"phi":-74,"psi":120,"c":"fav"},{"phi":-68,"psi":115,"c":"fav"},{"phi":-62,"psi":118,"c":"fav"},{"phi":-125,"psi":112,"c":"fav"},{"phi":-118,"psi":108,"c":"fav"},{"phi":-112,"psi":114,"c":"fav"},{"phi":-106,"psi":108,"c":"fav"},{"phi":-100,"psi":114,"c":"fav"},{"phi":-94,"psi":108,"c":"fav"},{"phi":-88,"psi":114,"c":"fav"},{"phi":-82,"psi":108,"c":"fav"},{"phi":-76,"psi":112,"c":"fav"},{"phi":-112,"psi":102,"c":"fav"},{"phi":-104,"psi":100,"c":"fav"},{"phi":-96,"psi":104,"c":"fav"},{"phi":-88,"psi":100,"c":"fav"},{"phi":-80,"psi":104,"c":"fav"},{"phi":-142,"psi":160,"c":"fav"},{"phi":-128,"psi":154,"c":"fav"},{"phi":-108,"psi":158,"c":"fav"},{"phi":-92,"psi":158,"c":"fav"},{"phi":-72,"psi":168,"c":"fav"},{"phi":-66,"psi":160,"c":"fav"},{"phi":-60,"psi":162,"c":"fav"},{"phi":-120,"psi":140,"c":"fav"},{"phi":-110,"psi":143,"c":"fav"},{"phi":-100,"psi":140,"c":"fav"},{"phi":-90,"psi":143,"c":"fav"},{"phi":-80,"psi":145,"c":"fav"},{"phi":-70,"psi":140,"c":"fav"},{"phi":-115,"psi":130,"c":"fav"},{"phi":-105,"psi":135,"c":"fav"},{"phi":-95,"psi":130,"c":"fav"},{"phi":-85,"psi":128,"c":"fav"},{"phi":-75,"psi":125,"c":"fav"},{"phi":-65,"psi":122,"c":"fav"},{"phi":-130,"psi":115,"c":"fav"},{"phi":-120,"psi":118,"c":"fav"},{"phi":-90,"psi":118,"c":"fav"},{"phi":-85,"psi":110,"c":"fav"},{"phi":-78,"psi":118,"c":"fav"},{"phi":-152,"psi":170,"c":"fav"},{"phi":-148,"psi":130,"c":"fav"},{"phi":-157,"psi":140,"c":"fav"},{"phi":-56,"psi":155,"c":"fav"},{"phi":-50,"psi":138,"c":"fav"},{"phi":-48,"psi":150,"c":"fav"},{"phi":-98,"psi":110,"c":"fav"},{"phi":-92,"psi":95,"c":"fav"},{"phi":-105,"psi":92,"c":"fav"},{"phi":-144,"psi":104,"c":"fav"},{"phi":-134,"psi":94,"c":"fav"},{"phi":-123,"psi":99,"c":"fav"},{"phi":-117,"psi":90,"c":"fav"},{"phi":-96,"psi":79,"c":"fav"},{"phi":-94,"psi":65,"c":"fav"},{"phi":-84,"psi":61,"c":"fav"},{"phi":-80,"psi":73,"c":"fav"},{"phi":-80,"psi":86,"c":"fav"},{"phi":-77,"psi":99,"c":"fav"},{"phi":-89,"psi":92,"c":"fav"},{"phi":-100,"psi":95,"c":"fav"},{"phi":-159,"psi":137,"c":"fav"},{"phi":-154,"psi":135,"c":"fav"},{"phi":-165,"psi":156,"c":"fav"},{"phi":-159,"psi":162,"c":"fav"},{"phi":-148,"psi":163,"c":"fav"},{"phi":-132,"psi":176,"c":"fav"},{"phi":-122,"psi":174,"c":"fav"},{"phi":-109,"psi":171,"c":"fav"},{"phi":-100,"psi":176,"c":"fav"},{"phi":-84,"psi":166,"c":"fav"},{"phi":-75,"psi":162,"c":"fav"},{"phi":-61,"psi":156,"c":"fav"},{"phi":-50,"psi":149,"c":"fav"},
{"phi":-133,"psi":41,"c":"fav"},{"phi":-111,"psi":30,"c":"fav"},{"phi":-108,"psi":24,"c":"fav"},{"phi":-122,"psi":20,"c":"fav"},{"phi":-98,"psi":19,"c":"fav"},{"phi":-115,"psi":12,"c":"fav"},{"phi":-105,"psi":10,"c":"fav"},{"phi":-95,"psi":14,"c":"fav"},{"phi":-88,"psi":8,"c":"fav"},{"phi":-126,"psi":5,"c":"fav"},{"phi":-118,"psi":2,"c":"fav"},{"phi":-108,"psi":-2,"c":"fav"},{"phi":-98,"psi":2,"c":"fav"},{"phi":-90,"psi":-3,"c":"fav"},{"phi":-80,"psi":-2,"c":"fav"},{"phi":-125,"psi":-10,"c":"fav"},{"phi":-112,"psi":-8,"c":"fav"},{"phi":-102,"psi":-10,"c":"fav"},{"phi":-92,"psi":-12,"c":"fav"},{"phi":-84,"psi":-8,"c":"fav"},{"phi":-75,"psi":-10,"c":"fav"},{"phi":-110,"psi":-18,"c":"fav"},{"phi":-100,"psi":-20,"c":"fav"},{"phi":-90,"psi":-18,"c":"fav"},{"phi":-80,"psi":-20,"c":"fav"},{"phi":-72,"psi":-18,"c":"fav"},{"phi":-65,"psi":-12,"c":"fav"},{"phi":-60,"psi":-5,"c":"fav"},{"phi":-105,"psi":-28,"c":"fav"},{"phi":-95,"psi":-30,"c":"fav"},{"phi":-85,"psi":-28,"c":"fav"},{"phi":-78,"psi":-30,"c":"fav"},{"phi":-70,"psi":-28,"c":"fav"},{"phi":-62,"psi":-25,"c":"fav"},{"phi":-55,"psi":-20,"c":"fav"},{"phi":-107,"psi":-42,"c":"fav"},{"phi":-98,"psi":-38,"c":"fav"},{"phi":-89,"psi":-35,"c":"fav"},{"phi":-80,"psi":-38,"c":"fav"},{"phi":-74,"psi":-35,"c":"fav"},{"phi":-68,"psi":-38,"c":"fav"},{"phi":-62,"psi":-35,"c":"fav"},{"phi":-56,"psi":-32,"c":"fav"},{"phi":-50,"psi":-30,"c":"fav"},{"phi":-85,"psi":-45,"c":"fav"},{"phi":-78,"psi":-45,"c":"fav"},{"phi":-72,"psi":-48,"c":"fav"},{"phi":-66,"psi":-45,"c":"fav"},{"phi":-60,"psi":-48,"c":"fav"},{"phi":-54,"psi":-42,"c":"fav"},{"phi":-48,"psi":-40,"c":"fav"},{"phi":-39,"psi":-41,"c":"fav"},{"phi":-80,"psi":-52,"c":"fav"},{"phi":-74,"psi":-55,"c":"fav"},{"phi":-68,"psi":-55,"c":"fav"},{"phi":-62,"psi":-56,"c":"fav"},{"phi":-56,"psi":-52,"c":"fav"},{"phi":-50,"psi":-50,"c":"fav"},{"phi":-70,"psi":-60,"c":"fav"},{"phi":-64,"psi":-60,"c":"fav"},{"phi":-58,"psi":-58,"c":"fav"},{"phi":-76,"psi":-40,"c":"fav"},{"phi":-70,"psi":-42,"c":"fav"},{"phi":-64,"psi":-42,"c":"fav"},{"phi":-58,"psi":-40,"c":"fav"},{"phi":-72,"psi":-35,"c":"fav"},{"phi":-66,"psi":-30,"c":"fav"},{"phi":-60,"psi":-28,"c":"fav"},{"phi":-68,"psi":-50,"c":"fav"},{"phi":-62,"psi":-50,"c":"fav"},{"phi":-76,"psi":-25,"c":"fav"},{"phi":-82,"psi":-15,"c":"fav"},{"phi":-70,"psi":-5,"c":"fav"},{"phi":-96,"psi":-45,"c":"fav"},{"phi":-88,"psi":-52,"c":"fav"},{"phi":-45,"psi":-48,"c":"fav"},{"phi":-52,"psi":-55,"c":"fav"},{"phi":-100,"psi":20,"c":"fav"},{"phi":-92,"psi":25,"c":"fav"},{"phi":-85,"psi":15,"c":"fav"},{"phi":-95,"psi":-5,"c":"fav"},{"phi":-118,"psi":-25,"c":"fav"},{"phi":-128,"psi":-20,"c":"fav"},
{"phi":47,"psi":54,"c":"fav"},{"phi":51,"psi":50,"c":"fav"},{"phi":57,"psi":38,"c":"fav"},{"phi":61,"psi":37,"c":"fav"},{"phi":58,"psi":30,"c":"fav"},{"phi":65,"psi":27,"c":"fav"},{"phi":76,"psi":9,"c":"fav"},{"phi":-112,"psi":-175,"c":"fav"},{"phi":-152,"psi":-180,"c":"fav"}
],
"rx":[{"phi":79,"psi":104},{"phi":-68,"psi":-106}],
"rl":[{"phi":79,"psi":115,"txt":"VAL_505"},{"phi":-68,"psi":-94,"txt":"ALA_237"},{"phi":-179,"psi":118,"txt":"ILE_96"},{"phi":183,"psi":43,"txt":"ARG_4"}]
},
"hconcat":[
{
"width":442,"height":432,
"view":{"stroke":"#999","strokeWidth":1},
"title":{"text":"Ramachandran Plot","subtitle":"saves","font":"Liberation Serif","fontSize":32,"fontWeight":"normal","color":"black","subtitleFont":"Liberation Serif","subtitleFontSize":24,"subtitleColor":"black","subtitlePadding":0,"offset":-3,"anchor":"middle"},
"encoding":{
"x":{"field":"phi","type":"quantitative","scale":{"domain":[-180,180],"nice":false,"zero":false},"axis":{"title":"Phi (degrees)","values":[-180,-135,-90,-45,0,45,90,135,180],"grid":false,"labelFont":"Liberation Serif","labelFontSize":13,"labelColor":"#222","titleFont":"Liberation Serif","titleFontSize":14,"titleFontWeight":"normal","titleColor":"#222","domainColor":"#666","tickColor":"#666","tickSize":4,"labelPadding":1,"titlePadding":5,"labelFlush":false}},
"y":{"field":"psi","type":"quantitative","scale":{"domain":[-180,180],"nice":false,"zero":false},"axis":{"title":"Psi (degrees)","values":[-180,-135,-90,-45,0,45,90,135,180],"grid":false,"labelFont":"Liberation Serif","labelFontSize":13,"labelColor":"#222","titleFont":"Liberation Serif","titleFontSize":14,"titleFontWeight":"normal","titleColor":"#222","domainColor":"#666","tickColor":"#666","tickSize":5,"labelPadding":2,"titlePadding":13,"labelFlush":false}}
},
"layer":[
{"data":{"name":"rg"},"mark":{"type":"rect","strokeWidth":0.6},"encoding":{"x2":{"field":"phi2"},"y2":{"field":"psi2"},"color":{"field":"t","type":"nominal","scale":{"domain":["g","y","r"],"range":["#F3F3BE","#FFFF00","#FF0000"]},"legend":null},"stroke":{"field":"t","type":"nominal","scale":{"domain":["g","y","r"],"range":["#F3F3BE","#FFFF00","#FF0000"]},"legend":null}}},
{"data":{"name":"lr"},"mark":{"type":"rule","color":"#c8c8c8","strokeWidth":1},"encoding":{"y2":{"field":"psi2"}}},
{"data":{"name":"lp"},"mark":{"type":"point","filled":true,"opacity":1,"size":22},"encoding":{"shape":{"field":"s","type":"nominal","scale":{"domain":["sq","tri","out"],"range":["square","triangle-up","square"]},"legend":null},"fill":{"field":"s","type":"nominal","scale":{"domain":["sq","tri","out"],"range":["#000000","#000000","#C0392B"]},"legend":null}}},
{"data":{"name":"ll"},"mark":{"type":"text","font":"Liberation Serif","fontSize":10,"color":"#444"},"encoding":{"text":{"field":"txt"}}},
{"data":{"name":"lo"},"mark":{"type":"text","font":"Liberation Serif","fontSize":9,"color":"#B5442C"},"encoding":{"text":{"field":"txt"}}}
]
},
{
"width":440,"height":432,
"view":{"stroke":"#555","strokeWidth":1.5},
"title":{"text":"General","font":"Liberation Sans","fontSize":21,"fontWeight":"bold","color":"black","offset":-19,"anchor":"middle"},
"encoding":{
"x":{"field":"phi","type":"quantitative","scale":{"domain":[-180,180],"nice":false,"zero":false},"axis":{"title":"Phi","values":[-150,-120,-90,-60,-30,0,30,60,90,120,150,180],"grid":false,"labelFont":"Liberation Sans","labelFontSize":14,"labelColor":"#333","titleFont":"Liberation Sans","titleFontSize":18,"titleFontWeight":"bold","titleColor":"black","domain":false,"tickColor":"#555","tickSize":-6,"labelPadding":8,"titlePadding":9,"labelFlush":false}},
"y":{"field":"psi","type":"quantitative","scale":{"domain":[-180,180],"nice":false,"zero":false},"axis":{"title":"Psi","titleAngle":0,"titleX":-28,"titleY":-9,"titleAlign":"center","titleBaseline":"bottom","values":[-180,-150,-120,-90,-60,-30,0,30,60,90,120,150,180],"grid":false,"labelFont":"Liberation Sans","labelFontSize":14,"labelColor":"#333","titleFont":"Liberation Sans","titleFontSize":18,"titleFontWeight":"bold","titleColor":"black","domain":false,"tickColor":"#555","tickSize":-6,"labelPadding":16,"labelFlush":false}}
},
"layer":[
{"data":{"name":"tk"},"mark":{"type":"rule","color":"#555","strokeWidth":1},"encoding":{"x2":{"field":"phi2"},"y2":{"field":"psi2"}}},
{"data":{"name":"rc"},"mark":{"type":"line","strokeWidth":1.4,"strokeDash":[1.5,1.5],"clip":true},"encoding":{"detail":{"field":"k"},"order":{"field":"i","type":"quantitative"},"color":{"field":"c","type":"nominal","scale":{"domain":["fav","all"],"range":["#62C46E","#D8A055"]},"legend":null}}},
{"data":{"name":"rp"},"mark":{"type":"point","filled":true,"opacity":1,"size":60,"strokeWidth":0.8},"encoding":{"fill":{"field":"c","type":"nominal","scale":{"domain":["fav","all"],"range":["#0E5A12","#EDE24E"]},"legend":null},"stroke":{"field":"c","type":"nominal","scale":{"domain":["fav","all"],"range":["#0A4A0D","#D8CC3A"]},"legend":null}}},
{"data":{"name":"rx"},"mark":{"type":"point","shape":"M-1,0L1,0M0,-1L0,1","filled":false,"size":70,"strokeWidth":1.5,"color":"#C0392B","opacity":1}},
{"data":{"name":"rl"},"mark":{"type":"text","font":"Liberation Sans","fontSize":14,"color":"#3A4A9A"},"encoding":{"text":{"field":"txt"}}}
]
}
]
}
